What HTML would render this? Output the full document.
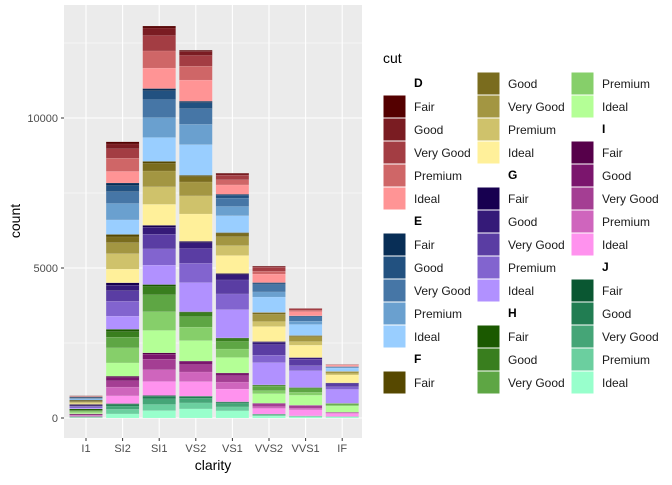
<!DOCTYPE html>
<html><head><meta charset="utf-8"><style>
body{margin:0;background:#fff;font-family:"Liberation Sans",sans-serif}
</style></head><body>
<svg id="c" width="672" height="480" xmlns="http://www.w3.org/2000/svg" font-family="Liberation Sans, sans-serif">
<rect x="64" y="5" width="298" height="433" fill="#ebebeb"/>
<g id="grid"></g><g id="bars"></g><g id="axes"></g><g id="legend"></g>
<text x="213" y="470" text-anchor="middle" font-size="14" fill="#000">clarity</text>
<text x="20" y="221" text-anchor="middle" font-size="14" fill="#000" transform="rotate(-90 20 221)">count</text>
<text x="383" y="63" font-size="14" fill="#000">cut</text>
</svg>
<script>
const categories=["I1","SI2","SI1","VS2","VS1","VVS2","VVS1","IF"];
const yTicks=[0,5000,10000];
const colorGroups=["D","E","F","G","H","I","J"];
const cuts=["Fair","Good","Very Good","Premium","Ideal"];
const D_Fair=[12,70,65,36,15,8,1,0];
const D_Good=[5,162,248,136,56,31,13,3];
const D_VG=[5,312,517,358,153,135,54,11];
const D_Prem=[12,440,571,465,171,95,43,9];
const D_Ideal=[8,388,683,703,310,284,141,49];
const E_Fair=[29,87,75,52,27,14,3,1];
const E_Good=[13,202,289,198,101,55,33,6];
const E_VG=[12,391,602,521,278,242,142,24];
const E_Prem=[28,550,665,677,311,170,111,20];
const E_Ideal=[20,485,796,1023,562,509,367,107];
const F_Fair=[40,82,66,46,29,14,4,2];
const F_Good=[19,190,254,176,108,55,37,15];
const F_VG=[16,367,528,464,296,238,159,58];
const F_Prem=[40,516,584,603,331,168,124,49];
const F_Ideal=[28,455,699,911,599,501,411,261];
const G_Fair=[42,79,61,49,45,20,5,3];
const G_Good=[20,183,235,188,170,81,51,27];
const G_VG=[17,353,490,495,466,352,216,102];
const G_Prem=[42,497,541,643,522,248,169,87];
const G_Ideal=[29,438,648,972,943,742,559,461];
const H_Fair=[46,80,71,35,25,9,3,1];
const H_Good=[21,184,271,131,92,34,30,12];
const H_VG=[18,356,564,347,254,148,126,45];
const H_Prem=[45,502,623,450,284,105,99,38];
const H_Ideal=[32,442,746,680,513,313,328,202];
const I_Fair=[26,47,44,25,20,5,2,1];
const I_Good=[12,108,169,94,76,20,18,6];
const I_VG=[10,208,353,247,209,89,77,21];
const I_Prem=[25,293,390,320,234,63,60,18];
const I_Ideal=[18,258,467,484,422,188,199,97];
const J_Fair=[14,24,23,15,11,2,0,0];
const J_Good=[7,57,89,58,43,7,4,2];
const J_VG=[6,109,186,154,118,32,16,8];
const J_Prem=[14,154,206,200,132,23,13,7];
const J_Ideal=[9,136,246,303,238,67,41,35];
const series=[[D_Fair,D_Good,D_VG,D_Prem,D_Ideal],[E_Fair,E_Good,E_VG,E_Prem,E_Ideal],[F_Fair,F_Good,F_VG,F_Prem,F_Ideal],[G_Fair,G_Good,G_VG,G_Prem,G_Ideal],[H_Fair,H_Good,H_VG,H_Prem,H_Ideal],[I_Fair,I_Good,I_VG,I_Prem,I_Ideal],[J_Fair,J_Good,J_VG,J_Prem,J_Ideal]];
const palette=[["#540000","#7a1c22","#a33d43","#cf6667","#ff9495"],["#082e56","#225180","#4676a6","#6aa0cf","#99ceff"],["#564800","#7a6c1e","#a39642","#cfc26b","#fff09a"],["#170050","#351a78","#5a3da3","#8264cf","#b191ff"],["#1b5900","#397e1e","#5ea644","#86cf6a","#b4ff96"],["#56004a","#7b156d","#a43e93","#cf65bd","#ff92ee"],["#0a5732","#217d52","#45a577","#6bcf9f","#98ffcc"]];
const NS="http://www.w3.org/2000/svg";
function mk(t,a,p){const e=document.createElementNS(NS,t);for(const k in a)e.setAttribute(k,a[k]);p.appendChild(e);return e;}
const y0=418, k=150/5000;
function yS(v){return y0-v*k;}
function xS(i){return 86+i*36.6;}
const grid=document.getElementById('grid'),bars=document.getElementById('bars'),axes=document.getElementById('axes'),leg=document.getElementById('legend');
[2500,7500,12500].forEach(v=>{const l=mk('line',{x1:64,x2:362,y1:yS(v),y2:yS(v),stroke:'#fff','stroke-width':0.5},grid);

});
yTicks.forEach(v=>{const l=mk('line',{x1:64,x2:362,y1:yS(v),y2:yS(v),stroke:'#fff','stroke-width':1.1},grid);


mk('line',{x1:61,x2:64,y1:yS(v),y2:yS(v),stroke:'#333'},axes);
const t=mk('text',{x:58,y:yS(v)+4,'text-anchor':'end','font-size':11,fill:'#4d4d4d'},axes);t.textContent=v;

});
categories.forEach((c,i)=>{const l=mk('line',{x1:xS(i),x2:xS(i),y1:5,y2:438,stroke:'#fff','stroke-width':1.1},grid);


mk('line',{x1:xS(i),x2:xS(i),y1:438,y2:441,stroke:'#333'},axes);
const t=mk('text',{x:xS(i),y:452,'text-anchor':'middle','font-size':11,fill:'#4d4d4d'},axes);t.textContent=c;


let cum=0;
for(let g=6;g>=0;g--)for(let q=4;q>=0;q--){const v=series[g][q][i];
const r=mk('rect',{x:xS(i)-16.5,width:33,y:yS(cum+v),height:v*k,fill:palette[g][q],stroke:'#ffffff','stroke-opacity':0.25,'stroke-width':0.3},bars);


cum+=v;}
});
// legend
const items=[];
colorGroups.forEach((g,gi)=>{items.push({h:g});cuts.forEach((c,ci)=>items.push({c:c,col:palette[gi][ci]}));});
const colX=[383,477,571];
items.forEach((it,idx)=>{const col=Math.floor(idx/14),row=idx%14;const x=colX[col],y=72+row*23;
if(it.h){const t=mk('text',{x:x+31,y:y+15,'font-size':12,'font-weight':'bold',fill:'#000'},leg);t.textContent=it.h;

}
else{const r=mk('rect',{x:x,y:y,width:23,height:23,fill:it.col,stroke:'#fff','stroke-width':1},leg);


const t=mk('text',{x:x+31,y:y+16,'font-size':12,fill:'#1a1a1a'},leg);t.textContent=it.c;

}
});
</script>
</body></html>
